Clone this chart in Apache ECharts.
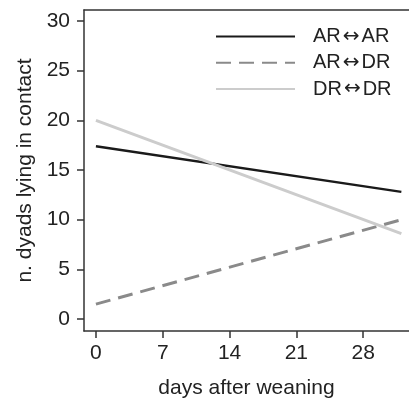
<!DOCTYPE html>
<html>
<head>
<meta charset="utf-8">
<script src="https://cdn.jsdelivr.net/npm/echarts@6/dist/echarts.min.js"></script>
<style>
html,body{margin:0;padding:0;background:#fff;}
#c{width:409px;height:404px;}
</style>
</head>
<body>
<div id="c"></div>
<script>
// Data
var days = [0, 32];
var arAr = [17.4, 12.8];
var arDr = [1.5, 10.0];
var drDr = [20.0, 8.6];
var xTicks = [0, 7, 14, 21, 28];
var yTicks = [0, 5, 10, 15, 20, 25, 30];
var seriesNames = ['AR\u2194AR', 'AR\u2194DR', 'DR\u2194DR'];

function pairs(xs, ys) { return xs.map(function (x, i) { return [x, ys[i]]; }); }

var FONT = 'Liberation Sans';
var TXT = '#222';
var AX = '#333';

var chart = echarts.init(document.getElementById('c'), null, { renderer: 'canvas' });
chart.setOption({
  animation: false,
  backgroundColor: '#fff',
  textStyle: { fontFamily: FONT },
  grid: { left: 84, top: 10, right: 0, bottom: 73, containLabel: false },
  legend: {
    orient: 'vertical',
    left: 215,
    top: 26.5,
    padding: 0,
    itemWidth: 79,
    itemHeight: 20,
    itemGap: 6.3,
    data: seriesNames,
    itemStyle: { opacity: 0 },
    formatter: function (name) {
      var p = name.split('\u2194');
      return '{t|' + p[0] + '}{a|\u2194}{t|' + p[1] + '}';
    },
    textStyle: {
      fontFamily: FONT, fontSize: 20, lineHeight: 20, color: TXT, padding: [0, 0, 0, 13],
      rich: {
        t: { fontFamily: FONT, fontSize: 20, lineHeight: 20, color: TXT },
        a: { fontFamily: 'DejaVu Sans', fontSize: 20, lineHeight: 20, color: TXT, padding: [0, 2, 0, 2] }
      }
    }
  },
  xAxis: [{
    type: 'value',
    min: -1.25,
    max: 32.8,
    name: 'days after weaning',
    nameLocation: 'middle',
    nameGap: 47,
    nameTextStyle: { fontFamily: FONT, fontSize: 21, color: TXT },
    splitLine: { show: false },
    axisLine: { show: true, onZero: false, lineStyle: { color: AX, width: 1.5 } },
    axisTick: { show: true, customValues: xTicks, length: 7, lineStyle: { color: AX, width: 1.5 } },
    axisLabel: { customValues: xTicks, fontFamily: FONT, fontSize: 21, color: TXT, margin: 12 }
  }, {
    type: 'value',
    position: 'top',
    min: -1.25,
    max: 32.8,
    splitLine: { show: false },
    axisLine: { show: true, onZero: false, lineStyle: { color: AX, width: 1.5 } },
    axisTick: { show: false },
    axisLabel: { show: false }
  }],
  yAxis: {
    type: 'value',
    min: -1.2,
    max: 31.1,
    name: 'n. dyads lying in contact',
    nameLocation: 'middle',
    nameGap: 48,
    nameTextStyle: { fontFamily: FONT, fontSize: 21, color: TXT },
    splitLine: { show: false },
    axisLine: { show: true, onZero: false, lineStyle: { color: AX, width: 1.5 } },
    axisTick: { show: true, customValues: yTicks, length: 7, lineStyle: { color: AX, width: 1.5 } },
    axisLabel: { customValues: yTicks, fontFamily: FONT, fontSize: 21, color: TXT, margin: 14 }
  },
  series: [
    {
      name: seriesNames[0], type: 'line', symbol: 'none', data: pairs(days, arAr),
      lineStyle: { color: '#1a1a1a', width: 2.5 }, itemStyle: { color: '#1a1a1a' }
    },
    {
      name: seriesNames[1], type: 'line', symbol: 'none', data: pairs(days, arDr),
      lineStyle: { color: '#8a8a8a', width: 3, type: [15, 8] }, itemStyle: { color: '#8a8a8a' }
    },
    {
      name: seriesNames[2], type: 'line', symbol: 'none', data: pairs(days, drDr),
      lineStyle: { color: '#cccccc', width: 3 }, itemStyle: { color: '#cccccc' }
    }
  ]
});
</script>
</body>
</html>
